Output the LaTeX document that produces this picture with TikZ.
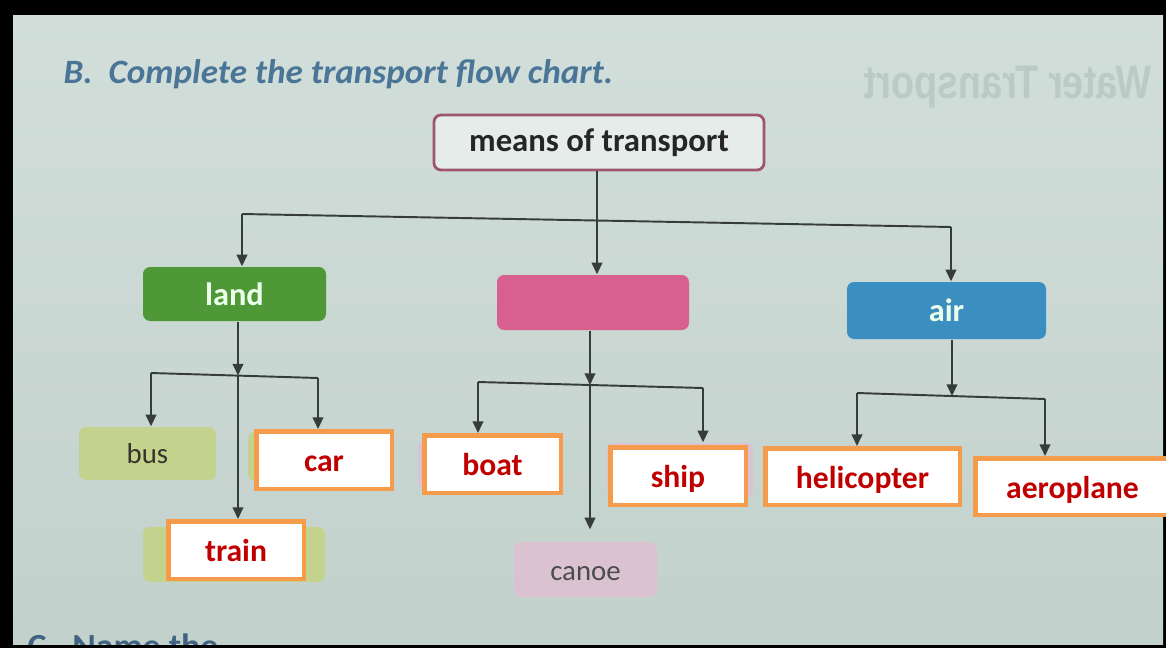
\documentclass[tikz,border=0pt]{standalone}
\usepackage{fontspec}
\setmainfont{Carlito}
\newfontfamily\bleedfont{Liberation Sans}
\usetikzlibrary{arrows.meta}
\definecolor{pagetop}{HTML}{D1DEDA}
\definecolor{pagebot}{HTML}{C3D1CC}
\definecolor{titleblue}{HTML}{4A7596}
\definecolor{landgreen}{HTML}{4E9838}
\definecolor{waterpink}{HTML}{D8608E}
\definecolor{airblue}{HTML}{3A8EC0}
\definecolor{palegreen}{HTML}{C3D38E}
\definecolor{palepink}{HTML}{DBC2D0}
\definecolor{ansorange}{HTML}{F59B4C}
\definecolor{ansred}{HTML}{C00000}
\definecolor{linegray}{HTML}{363C3B}
\definecolor{rootborder}{HTML}{A0566A}
\definecolor{rootfill}{HTML}{E6ECEA}
\definecolor{bleed}{HTML}{BCCAC6}
\tikzset{
  sz/.style 2 args={minimum width=#1*0.01cm, minimum height=#2*0.01cm, inner sep=0pt},
  rootbox/.style={draw=rootborder, line width=0.8pt, fill=rootfill, rounded corners=2pt,
    font=\fontsize{9.3}{11}\selectfont\bfseries, text=black!85},
  catbox/.style={rounded corners=2pt, font=\fontsize{9.2}{11}\selectfont\bfseries, text=white!92!green},
  subbox/.style={rounded corners=2pt, font=\fontsize{8.2}{10}\selectfont},
  ansbox/.style={draw=ansorange, line width=0.045cm, fill=white,
    font=\fontsize{9}{11}\selectfont\bfseries, text=ansred, text height=7.8pt, text depth=1pt},
  conn/.style={draw=linegray, line width=0.55pt},
  arr/.style={conn, -{Triangle[length=3.3pt,width=3pt]}}
}
\begin{document}
\begin{tikzpicture}[x=0.01cm, y=-0.01cm]
% frame and page
\fill[black] (0,0) rectangle (1166,648);
\shade[top color=pagetop, bottom color=pagebot] (13,15) rectangle (1163,644);
\useasboundingbox (0,0) rectangle (1166,648);
% faint show-through heading
\node[text=bleed, font=\bleedfont\bfseries\fontsize{10.7}{12}\selectfont] (bleedhead) at (1008,87) {\scalebox{-1}[1.25]{Water Transport}};
% title
\node[anchor=base west, inner sep=0pt, text=titleblue, font=\fontsize{9.7}{11}\selectfont\bfseries\itshape] (title) at (63,83) {\scalebox{1.03}[1]{B.\ \ Complete the transport flow chart.}};
% bottom cut-off heading
\begin{scope}
\clip (13,15) rectangle (1163,644);
\node[anchor=base west, inner sep=0pt, text=titleblue!85!black, font=\fontsize{9.6}{11}\selectfont\bfseries] (nextq) at (27,657) {\scalebox{1.06}[1]{C.\ \ Name the}};
\end{scope}
% root
\node[rootbox, sz={330}{55}] (root) at (599,142.5) {means of transport};
% categories
\node[catbox, sz={183}{54}, fill=landgreen] (land) at (234.5,294) {land};
\node[catbox, sz={192}{55}, fill=waterpink] (water) at (593,302.5) {};
\node[catbox, sz={199}{57}, fill=airblue] (air) at (946.5,310.5) {air};
% pale printed boxes
\node[subbox, sz={137}{53}, fill=palegreen, text=black!80!olive] (bus) at (147.5,453.5) {bus};
\node[subbox, sz={142}{49}, fill=palegreen] (carbg) at (319,456.5) {};
\node[subbox, sz={182}{55}, fill=palegreen] (trainbg) at (234,554.5) {};
\node[subbox, sz={142}{48}, fill=palepink] (boatbg) at (489,464) {};
\node[subbox, sz={146}{55}, fill=palepink] (shipbg) at (680,470.5) {};
\node[subbox, sz={143}{55}, fill=palepink, text=black!70, text height=6pt, text depth=0pt] (canoe) at (585.5,569.5) {canoe};
% answer overlays
\node[ansbox, sz={135.5}{57.5}] (car) at (324,460) {car};
\node[ansbox, sz={135.5}{57.5}] (train) at (236,550) {train};
\node[ansbox, sz={136.5}{57.5}] (boat) at (492.5,464) {boat};
\node[ansbox, sz={135.5}{57.5}] (ship) at (678,476) {ship};
\node[ansbox, sz={194.5}{56.5}] (heli) at (862.5,476.5) {helicopter};
\node[ansbox, sz={194.5}{56.5}] (aero) at (1072.5,486.5) {aeroplane};
% top level connectors
\coordinate (hL) at (242,214);
\coordinate (hM) at (597,220.5);
\coordinate (hR) at (951,227);
\draw[conn] (hL) -- (hR);
\draw[conn] (root.south -| hM) -- (hM);
\draw[arr] (hL) -- (land.north -| hL);
\draw[arr] (hM) -- (water.north -| hM);
\draw[arr] (hR) -- (air.north -| hR);
% land connectors
\coordinate (lL) at (151,373);
\coordinate (lJ) at (238,375.5);
\coordinate (lR) at (318,378);
\draw[arr] (land.south -| lJ) -- (lJ);
\draw[conn] (lL) -- (lR);
\draw[arr] (lL) -- (bus.north -| lL);
\draw[arr] (lR) -- (car.north -| lR);
\draw[arr] (lJ) -- (train.north -| lJ);
% water connectors
\coordinate (pL) at (478,382);
\coordinate (pJ) at (590,385);
\coordinate (pR) at (703,388);
\draw[arr] (water.south -| pJ) -- (pJ);
\draw[conn] (pL) -- (pR);
\draw[arr] (pL) -- (boat.north -| pL);
\draw[arr] (pR) -- (shipbg.north -| pR);
\draw[arr, shorten >=3.4pt] (pJ) -- (canoe.north -| pJ);
% air connectors
\coordinate (aL) at (857,393);
\coordinate (aJ) at (952,396);
\coordinate (aR) at (1045,399);
\draw[arr] (air.south -| aJ) -- (aJ);
\draw[conn] (aL) -- (aR);
\draw[arr] (aL) -- (heli.north -| aL);
\draw[arr] (aR) -- (aero.north -| aR);
\end{tikzpicture}
\end{document}
